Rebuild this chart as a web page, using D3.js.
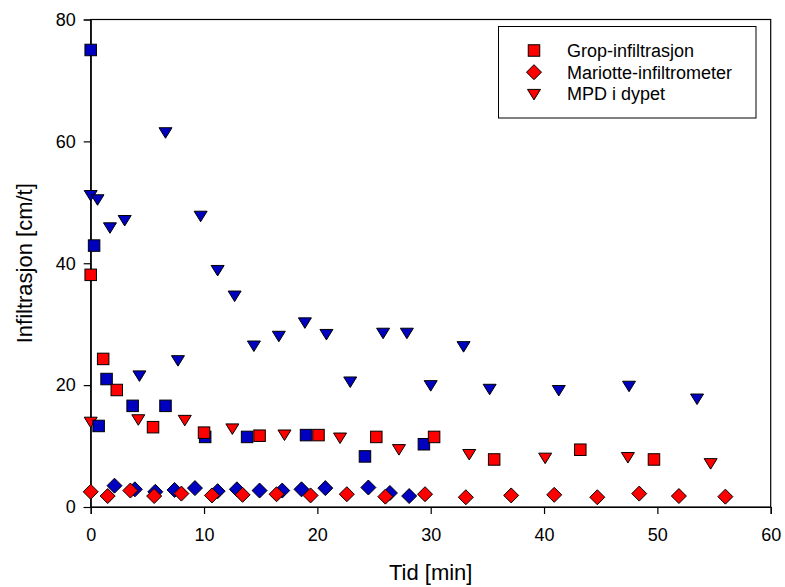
<!DOCTYPE html>
<html>
<head>
<meta charset="utf-8">
<script src="https://cdn.jsdelivr.net/npm/d3@7/dist/d3.min.js"></script>
<style>
  body { margin: 0; background: #fff; }
  svg { font-family: "Liberation Sans", Arial, sans-serif; }
</style>
</head>
<body>
<div id="chart"></div>
<script>
// Infiltrasjon over tid, to målerunder (rød / blå) per metode
const gropRedX = [0, 1.1, 2.3, 5.5, 10.0, 14.9, 20.1, 25.2, 30.3, 35.6, 43.2, 49.7];
const gropRedY = [38.1, 24.3, 19.2, 13.1, 12.2, 11.7, 11.8, 11.5, 11.5, 7.8, 9.4, 7.8];
const gropBlueX = [0, 0.3, 0.7, 1.4, 3.7, 6.6, 10.1, 13.8, 19.0, 24.2, 29.4];
const gropBlueY = [75.0, 42.9, 13.3, 21.0, 16.6, 16.6, 11.5, 11.5, 11.8, 8.3, 10.3];

const mariRedX = [0, 1.5, 3.5, 5.6, 8.0, 10.7, 13.4, 16.4, 19.4, 22.6, 26.0, 29.5, 33.1, 37.1, 40.9, 44.7, 48.4, 51.9, 56.0];
const mariRedY = [2.5, 1.8, 2.7, 1.8, 2.2, 1.9, 2.0, 2.1, 1.9, 2.1, 1.7, 2.1, 1.6, 1.9, 2.0, 1.6, 2.2, 1.8, 1.7];
const mariBlueX = [2.1, 3.9, 5.7, 7.4, 9.2, 11.2, 12.9, 14.9, 16.9, 18.6, 20.7, 24.5, 26.4, 28.1];
const mariBlueY = [3.5, 2.9, 2.5, 2.8, 3.1, 2.6, 2.9, 2.7, 2.7, 2.9, 3.1, 3.2, 2.3, 1.8];

const mpdRedX = [0, 4.2, 8.3, 12.5, 17.1, 22.0, 27.2, 33.4, 40.1, 47.4, 54.7];
const mpdRedY = [14.0, 14.4, 14.3, 12.9, 11.9, 11.4, 9.5, 8.7, 8.1, 8.2, 7.2];
const mpdBlueX = [0, 0.6, 1.7, 3.0, 4.3, 6.6, 7.7, 9.7, 11.2, 12.7, 14.4, 16.6, 18.9, 20.8, 22.9, 25.8, 27.9, 30.0, 32.9, 35.2, 41.3, 47.5, 53.5];
const mpdBlueY = [51.2, 50.5, 45.9, 47.1, 21.6, 61.5, 24.1, 47.8, 38.9, 34.7, 26.5, 28.1, 30.3, 28.4, 20.6, 28.6, 28.6, 20.0, 26.4, 19.4, 19.2, 19.9, 17.8];

const xTicks = [0, 10, 20, 30, 40, 50, 60];
const yTicks = [0, 20, 40, 60, 80];
const legendLabels = ['Grop-infiltrasjon', 'Mariotte-infiltrometer', 'MPD i dypet'];

const RED = '#ff0000', BLUE = '#0000c0';

const width = 785, height = 587;
const margin = { left: 90.7, right: 785 - 770.7, top: 19.5, bottom: 587 - 507 };

const svg = d3.select('#chart').append('svg')
  .attr('width', width)
  .attr('height', height);

const x = d3.scaleLinear().domain([0, 60]).range([margin.left, width - margin.right]);
const y = d3.scaleLinear().domain([0, 80]).range([height - margin.bottom, margin.top]);

// rammen
svg.append('rect')
  .attr('x', x(0)).attr('y', y(80))
  .attr('width', x(60) - x(0)).attr('height', y(0) - y(80))
  .attr('fill', 'none').attr('stroke', '#000').attr('stroke-width', 1.2);

const xAxis = svg.append('g')
  .attr('transform', `translate(0,${y(0)})`)
  .call(d3.axisBottom(x).tickValues(xTicks).tickSize(7).tickPadding(14).tickFormat(d3.format('d')));
const yAxis = svg.append('g')
  .attr('transform', `translate(${x(0)},0)`)
  .call(d3.axisLeft(y).tickValues(yTicks).tickSize(7).tickPadding(8).tickFormat(d3.format('d')));
[xAxis, yAxis].forEach(a => {
  a.select('.domain').attr('stroke', '#000').attr('stroke-width', 1.2);
  a.selectAll('.tick line').attr('stroke', '#000').attr('stroke-width', 1.2);
  a.selectAll('.tick text')
    .attr('fill', '#000')
    .style('font-family', '"Liberation Sans", Arial, sans-serif')
    .style('font-size', '18px');
});

svg.append('text')
  .attr('x', (x(0) + x(60)) / 2).attr('y', 580)
  .attr('text-anchor', 'middle')
  .style('font-size', '22px')
  .text('Tid [min]');
svg.append('text')
  .attr('transform', `translate(32,${(y(0) + y(80)) / 2}) rotate(-90)`)
  .attr('text-anchor', 'middle')
  .style('font-size', '22px')
  .text('Infiltrasjon [cm/t]');

// markørformer
const sq = 11.5;
function square(g) {
  g.append('rect').attr('x', -sq / 2).attr('y', -sq / 2).attr('width', sq).attr('height', sq);
}
function diamond(g) {
  g.append('path').attr('d', 'M0,-7.5L7.5,0L0,7.5L-7.5,0Z');
}
function triangle(g) {
  g.append('path').attr('d', 'M-6.5,-4.5L6.5,-4.5L0,6Z');
}

function plotSeries(xs, ys, shape, color) {
  const pts = xs.map((v, i) => [v, ys[i]]);
  svg.append('g')
    .selectAll('g')
    .data(pts)
    .join('g')
    .attr('transform', d => `translate(${x(d[0])},${y(d[1])})`)
    .attr('fill', color)
    .attr('stroke', '#000')
    .attr('stroke-width', 1)
    .each(function () { shape(d3.select(this)); });
}

plotSeries(mariBlueX, mariBlueY, diamond, BLUE);
plotSeries(mariRedX, mariRedY, diamond, RED);
plotSeries(mpdBlueX, mpdBlueY, triangle, BLUE);
plotSeries(mpdRedX, mpdRedY, triangle, RED);
plotSeries(gropBlueX, gropBlueY, square, BLUE);
plotSeries(gropRedX, gropRedY, square, RED);

// legende
const lg = svg.append('g');
lg.append('rect')
  .attr('x', 498.5).attr('y', 26.5).attr('width', 257.5).attr('height', 91.5)
  .attr('fill', '#fff').attr('stroke', '#000').attr('stroke-width', 1);
const shapes = [square, diamond, triangle];
legendLabels.forEach((lab, i) => {
  const yy = 50.5 + i * 21.7;
  const m = lg.append('g')
    .attr('transform', `translate(534,${yy})`)
    .attr('fill', RED).attr('stroke', '#000').attr('stroke-width', 1);
  shapes[i](m);
  lg.append('text')
    .attr('x', 567).attr('y', yy + 6.5)
    .style('font-size', '18px')
    .text(lab);
});
</script>
</body>
</html>
